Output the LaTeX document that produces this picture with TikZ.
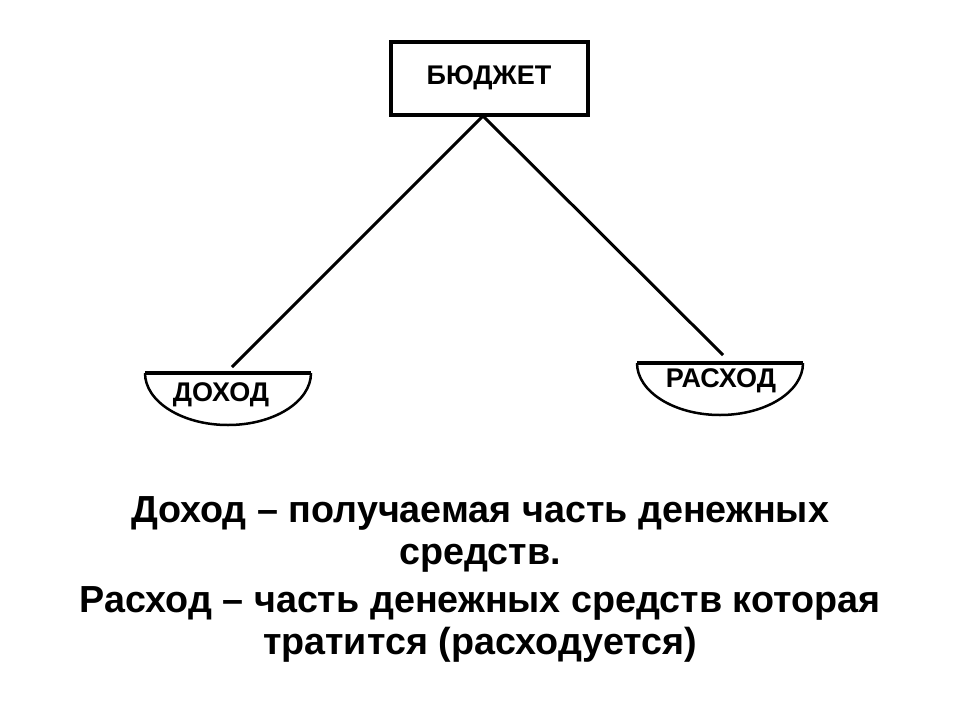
\documentclass[tikz,border=0pt]{standalone}
\usepackage{fontspec}
\setmainfont{Liberation Sans}
\begin{document}
\begin{tikzpicture}[x=1pt,y=-1pt,
  boxstyle/.style={draw=black,line width=4pt,minimum width=197pt,minimum height=73pt,inner sep=0pt,font=\fontsize{27}{30}\selectfont\bfseries},
  panlabel/.style={inner sep=0pt,font=\fontsize{27}{30}\selectfont\bfseries},
  link/.style={line width=3pt},
  panrim/.style={line width=3.5pt},
  panbowl/.style={line width=2.5pt}]
\useasboundingbox (0,0) rectangle (960,720);
\node[boxstyle] (budget) at (489,78) {БЮДЖЕТ};
\coordinate (btop) at (483,116);
% left pan
\coordinate (lpl) at (145,373);
\coordinate (lpr) at (311,373);
\draw[panbowl] (lpl) arc[start angle=180,end angle=0,x radius=83,y radius=52];
\draw[panrim] (lpl) -- (lpr);
\node[panlabel] (income) at (221,395) {ДОХОД};
% right pan
\coordinate (rpl) at (637,363);
\coordinate (rpr) at (803,363);
\draw[panbowl] (rpl) arc[start angle=180,end angle=0,x radius=83,y radius=52];
\draw[panrim] (rpl) -- (rpr);
\node[panlabel] (expense) at (721,381) {РАСХОД};
\coordinate (lend) at (232,367);
\coordinate (rend) at (723,355);
\draw[link] (btop) -- (lend);
\draw[link] (btop) -- (rend);
\node[align=center,font=\fontsize{37.7}{42}\selectfont\bfseries] (def) at (480,579)
  {Доход – получаемая часть денежных\\средств.\\[6pt]Расход – часть денежных средств которая\\тратится (расходуется)};
\end{tikzpicture}
\end{document}
